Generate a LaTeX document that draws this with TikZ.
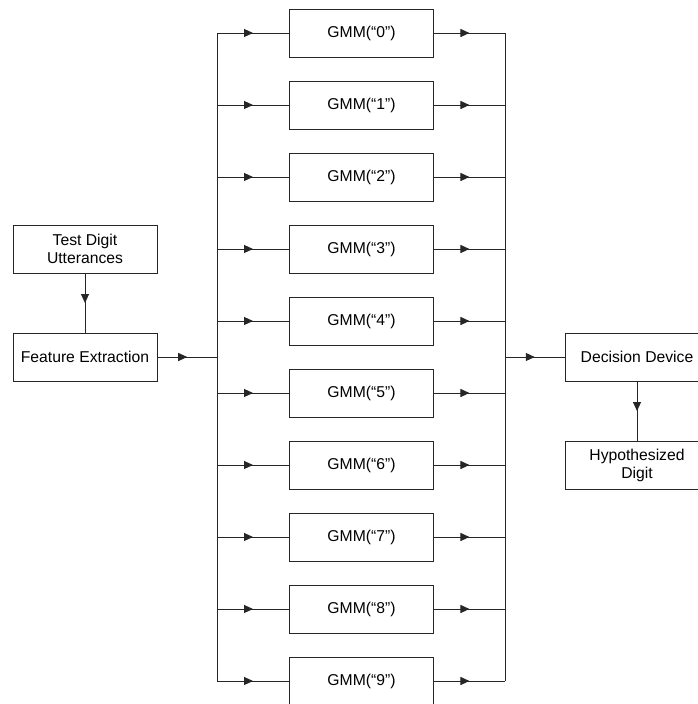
\documentclass[tikz,border=0pt]{standalone}
\usepackage{fontspec}
\setmainfont{Liberation Sans}
\usetikzlibrary{arrows.meta}
\usetikzlibrary{decorations.markings}

\begin{document}
\begin{tikzpicture} [x=1pt,y=-1pt,line width=0.9pt,draw=black!85,
     font=\fontsize{15.7}{18}\selectfont,
     blk/.style={rectangle, draw, fill=white, minimum width=144pt, minimum height=48pt,
                 inner sep=0pt, align=center},
     midarrow/.style={postaction={decorate},
       decoration={markings, mark=at position 0.5 with {\arrow{Triangle[length=9pt,width=8pt]}}}}
   ]
\clip (0,0) rectangle (698,704);
\fill[white] (0,0) rectangle (698,704);

% input side
\node (test) [blk] at (85,249) {Test Digit\\Utterances};
\node (feat) [blk] at (85,357) {Feature Extraction};
\draw[midarrow] (test) -- (feat);

% one model per digit, fed from a common bus
\foreach \k in {0,...,9} {
  \node (gmm\k) [blk] at (361.5,33+72*\k) {GMM(“\k”)};
  \coordinate (in\k) at (217,33+72*\k);
  \coordinate (out\k) at (505,33+72*\k);
  \draw[midarrow] (in\k) -- (gmm\k);
  \draw[midarrow] (gmm\k) -- (out\k);
}
\draw (in0) -- (in9);
\draw (out0) -- (out9);

\coordinate (fork) at (217,357);
\coordinate (join) at (505,357);
\draw[midarrow] (feat) -- (fork);

% output side
\node (dec) [blk] at (637,357) {Decision Device};
\node (hyp) [blk] at (637,465) {Hypothesized\\Digit};
\draw[midarrow] (join) -- (dec);
\draw[midarrow] (dec) -- (hyp);
\end{tikzpicture}
\end{document}
